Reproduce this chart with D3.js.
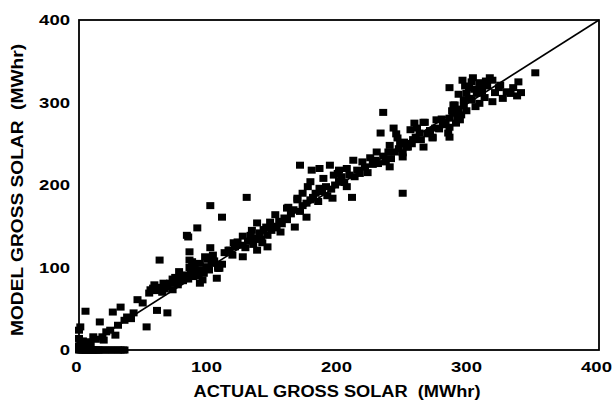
<!DOCTYPE html>
<html>
<head>
<meta charset="utf-8">
<script src="https://cdn.jsdelivr.net/npm/d3@7"></script>
<style>
  body { margin: 0; background: #fff; }
  text { font-family: "Liberation Sans", Arial, sans-serif; font-weight: bold; fill: #000; white-space: pre; }
</style>
</head>
<body>
<div id="chart"></div>
<script>
// actual vs model gross solar (MWhr)
const actualMWh = [
  0,1,2,3,4,5,6,7,8,9,10,11,12,13,14,15,16,18,20,22,24,26,28,30,32,34,35,
  0,0,1,2,3,0,0,4,6,1,
  5,16,1,11,18,28,26,37,45,52,60,68,32,49,8,13,21,24,35,40,42,30,19,9,
  55,62,70,78,62,85,83,91,101,87,98,108,93,106,115,120,
  54,57,60,64,65,58,66,68,72,74,76,80,82,84,86,88,90,92,94,96,80,85,89,93,95,100,102,104,107,110,99,97,103,74,77,72,101,85,110,84,
  129,122,126,116,107,137,147,151,132,139,145,155,145,137,112,118,124,128,130,134,136,140,142,144,148,150,152,154,156,158,160,161,168,166,175,126,119,133,141,
  170,179,185,193,178,188,199,211,206,216,218,224,229,232,239,249,210,195,185,190,206,168,178,160,191,
  163,165,170,172,175,180,182,184,187,194,197,200,202,204,208,212,214,220,222,226,228,230,234,236,238,240,196,200,176,172,
  242,245,249,253,260,234,265,272,239,285,295,291,285,275,265,258,255,262,272,285,257,252,249,247,280,274,266,288,289,285,293,
  243,246,250,256,259,263,268,270,277,279,282,284,287,290,292,294,296,298,244,
  302,308,318,324,338,351,337,329,318,308,298,296,306,302,289,316,332,323,300,304,310,312,314,300,305,310,320,326,334,340,297,303,313,292
];
const modelMWh = [
  0,0,0,0,0,0,0,0,0,0,0,0,0,0,0,0,0,0,0,0,0,0,0,0,0,0,0,
  2,5,8,4,11,14,24,2,4,3,
  47,34,28,16,16,18,46,40,61,28,48,45,52,57,10,13,22,24,36,38,45,30,12,6,
  73,76,81,88,109,119,139,148,124,107,101,99,81,87,121,125,
  69,75,72,70,81,79,74,77,73,81,79,84,89,86,92,89,95,90,97,93,91,100,102,105,85,97,105,108,101,104,110,113,115,88,95,86,175,109,161,137,
  185,131,113,121,99,154,155,164,139,142,139,143,125,121,118,115,127,124,132,128,136,134,146,149,145,150,148,156,153,160,158,173,184,149,161,138,130,145,130,
  224,218,220,224,204,208,214,230,220,214,228,233,240,263,248,190,185,184,196,198,198,182,182,172,187,
  165,170,168,175,178,185,190,180,192,195,200,205,210,203,212,210,218,222,215,225,230,226,235,228,240,232,212,218,198,190,
  269,257,239,246,269,288,246,258,222,318,327,282,270,279,276,275,267,263,257,258,255,246,234,250,273,269,276,297,287,281,279,
  240,244,252,250,258,255,262,266,268,280,276,263,290,275,292,285,296,290,262,
  325,324,327,321,325,336,308,313,301,299,311,303,311,303,297,330,311,318,318,316,314,306,320,305,295,320,312,305,318,312,320,330,326,310
];
const ticks = [0, 100, 200, 300, 400];
const xTitle = "ACTUAL GROSS SOLAR  (MWhr)";
const yTitle = "MODEL GROSS SOLAR  (MWhr)";

const width = 613, height = 402;
const margin = { left: 79, top: 20, right: 14, bottom: 52 };

const svg = d3.select("#chart").append("svg")
  .attr("width", width)
  .attr("height", height);

const x = d3.scaleLinear().domain([0, 400]).range([margin.left, width - margin.right]);
const y = d3.scaleLinear().domain([0, 400]).range([height - margin.bottom, margin.top]);

const points = actualMWh.map((a, i) => ({ a, m: modelMWh[i] }));

// markers
svg.append("g")
  .selectAll("rect")
  .data(points)
  .enter()
  .append("rect")
  .attr("x", d => x(d.a) - 4)
  .attr("y", d => y(d.m) - 3.5)
  .attr("width", 8)
  .attr("height", 7)
  .attr("fill", "#000");

// 1:1 line
svg.append("line")
  .attr("x1", x(0)).attr("y1", y(0))
  .attr("x2", x(400)).attr("y2", y(400))
  .attr("stroke", "#000")
  .attr("stroke-width", 1.6);

// frame
svg.append("rect")
  .attr("x", x(0)).attr("y", y(400))
  .attr("width", x(400) - x(0))
  .attr("height", y(0) - y(400))
  .attr("fill", "none")
  .attr("stroke", "#000")
  .attr("stroke-width", 1.8);

// axes, no tick marks, just labels
const xAxis = svg.append("g")
  .attr("transform", `translate(0,${y(0)})`)
  .call(d3.axisBottom(x).tickValues(ticks).tickSize(0).tickPadding(11));
xAxis.select(".domain").remove();
xAxis.selectAll("text")
  .attr("x", -3)
  .attr("font-size", 15.5)
  .attr("textLength", d => String(d).length * 10.3)
  .attr("lengthAdjust", "spacingAndGlyphs");

const yAxis = svg.append("g")
  .attr("transform", `translate(${x(0)},0)`)
  .call(d3.axisLeft(y).tickValues(ticks).tickSize(0).tickPadding(9));
yAxis.select(".domain").remove();
yAxis.selectAll("text")
  .attr("font-size", 15.5)
  .attr("textLength", d => String(d).length * 10.3)
  .attr("lengthAdjust", "spacingAndGlyphs");

// titles
svg.append("text")
  .attr("x", 337)
  .attr("y", 397)
  .attr("text-anchor", "middle")
  .attr("font-size", 16)
  .attr("textLength", 287)
  .attr("lengthAdjust", "spacingAndGlyphs")
  .text(xTitle);

svg.append("text")
  .attr("transform", "translate(23,190) rotate(-90)")
  .attr("text-anchor", "middle")
  .attr("font-size", 16)
  .attr("textLength", 292)
  .attr("lengthAdjust", "spacingAndGlyphs")
  .text(yTitle);
</script>
</body>
</html>
